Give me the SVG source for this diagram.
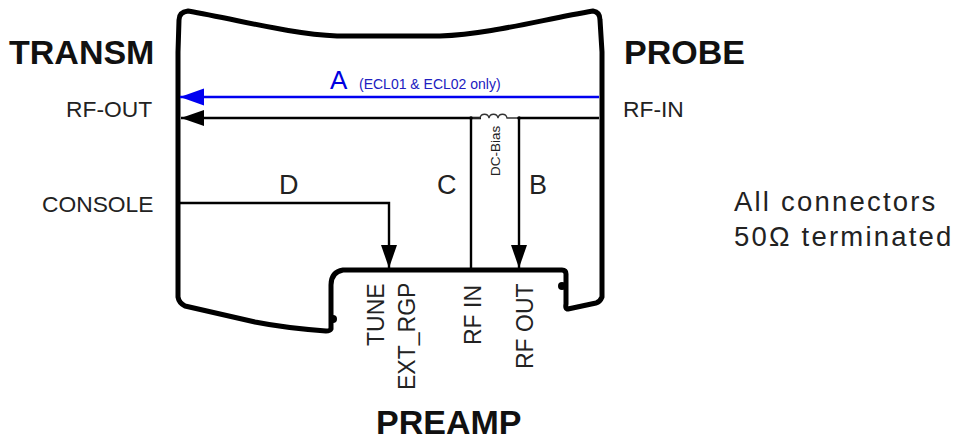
<svg xmlns="http://www.w3.org/2000/svg" width="954" height="441" viewBox="0 0 954 441">
<style>
text{font-family:"Liberation Sans",Arial,sans-serif;fill:#222}
.h{font-size:34px;font-weight:bold;fill:#111}
.l{font-size:22.8px}
.v{font-size:23px}
.n{font-size:27px}
.t{font-size:27.5px;letter-spacing:2.2px}
.w{fill:none;stroke:#000;stroke-width:2.4}
.o{fill:none;stroke:#000;stroke-width:5;stroke-linejoin:round}
</style>
<defs>
<marker id="bk" markerUnits="userSpaceOnUse" markerWidth="24" markerHeight="18" refX="23" refY="8" orient="auto"><path d="M0 0L23 8L0 16Z" fill="#000"/></marker>
<marker id="bl" markerUnits="userSpaceOnUse" markerWidth="25" markerHeight="18" refX="24" refY="8.5" orient="auto"><path d="M0 0L24 8.5L0 17Z" fill="#0000f0"/></marker>
</defs>
<g id="enclosure">
<path class="o" d="M178 297L178 52L179 20Q179 12 188 11C240 20 290 34 337 36L440 36C490 34 540 20 593 11Q600 12 600 20L602 52L602 297Q600 302 596 303L568 309Q565 309 566 304L566 274Q566 270 562 270L343 270Q331 272 331 285L331 329Q330 331 326 331C300 329 275 326 255 322L185 306Q179 303 178 297Z"/>
<circle cx="333" cy="319" r="4"/>
<circle cx="562" cy="286" r="4"/>
</g>
<g id="connectors">
<path d="M599 97L180 97" fill="none" stroke="#0000f0" stroke-width="2.6" marker-end="url(#bl)"/>
<path class="w" d="M599 118L519 118M481 118L181 118" marker-end="url(#bk)"/>
<path class="w" d="M471 118V270"/>
<path class="w" d="M519 118V268" marker-end="url(#bk)"/>
<path class="w" d="M178 203H389V268" marker-end="url(#bk)"/>
<path fill="none" stroke="#333" stroke-width="1.3" d="M471 118H480C481 113 488 113 489 118C490 113 497 113 498 118C499 113 506 113 507 118H519"/>
<circle cx="471" cy="118" r="1.8"/><circle cx="519" cy="118" r="1.8"/>
</g>
<g id="transm"><text class="h" x="9" y="64">TRANSM</text><text class="l" x="66" y="117">RF-OUT</text><text class="l" x="42" y="212">CONSOLE</text></g>
<g id="probe"><text class="h" x="624" y="64">PROBE</text><text class="l" x="623" y="117">RF-IN</text></g>
<g id="preamp">
<text class="h" x="376" y="433.5">PREAMP</text>
<text class="v" transform="translate(384 346) rotate(-90)">TUNE</text>
<text class="v" transform="translate(415 390) rotate(-90)">EXT_RGP</text>
<text class="v" transform="translate(481 345) rotate(-90)">RF IN</text>
<text class="v" transform="translate(533 369) rotate(-90)">RF OUT</text>
</g>
<g id="labels">
<text x="330" y="89" font-size="26" style="fill:#0000e0">A</text>
<text x="359" y="89" font-size="14" style="fill:#2020c0">(ECL01 &amp; ECL02 only)</text>
<text transform="translate(500 176) rotate(-90)" font-size="13.5">DC-Bias</text>
<text class="n" x="279" y="194">D</text>
<text class="n" x="437" y="194">C</text>
<text class="n" x="529" y="194">B</text>
<text class="t" x="734" y="211">All connectors</text>
<text class="t" x="734" y="246">50Ω terminated</text>
</g>
</svg>
